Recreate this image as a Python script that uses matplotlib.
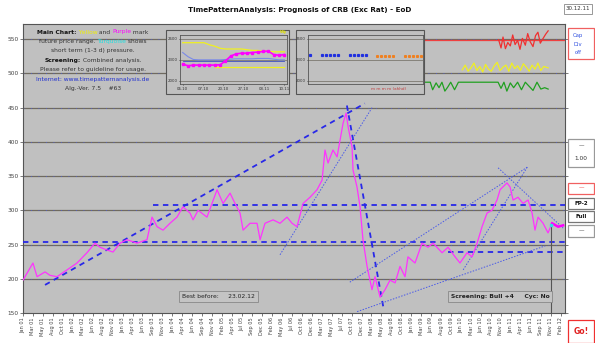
import matplotlib.pyplot as plt
import numpy as np
import pandas as pd
from matplotlib.patches import Rectangle

W, H = 595, 343

# CRB index: position in years after 01.01.2001 and index value
crb_years = [0.000, 0.206, 0.289, 0.454, 0.557, 0.701, 0.908, 1.114, 1.320, 1.485,
             1.588, 1.733, 1.856, 2.001, 2.145, 2.352, 2.558, 2.661, 2.764, 2.888,
             3.032, 3.177, 3.300, 3.445, 3.507, 3.610, 3.795, 4.002, 4.125, 4.270,
             4.373, 4.476, 4.538, 4.682, 4.827, 4.889, 4.992, 5.157, 5.301, 5.446,
             5.549, 5.652, 5.776, 5.920, 6.064, 6.168, 6.229, 6.291, 6.394, 6.477,
             6.539, 6.601, 6.663, 6.704, 6.786, 6.807, 6.889, 6.951, 7.013, 7.096,
             7.199, 7.261, 7.364, 7.467, 7.570, 7.673, 7.776, 7.880, 7.941, 8.086,
             8.230, 8.354, 8.457, 8.643, 8.767, 8.911, 9.014, 9.158, 9.262, 9.365,
             9.468, 9.571, 9.674, 9.777, 9.839, 9.983, 10.045, 10.107, 10.210, 10.314,
             10.417, 10.499, 10.561, 10.623, 10.726, 10.829, 10.912, 11.035, 11.139]
crb_values = [198, 223, 203, 210, 205, 203, 213, 223, 238, 252,
              246, 242, 239, 252, 257, 252, 257, 290, 276, 271,
              281, 290, 305, 296, 286, 300, 290, 330, 310, 325,
              310, 296, 271, 281, 281, 257, 281, 286, 281, 290,
              281, 276, 310, 319, 330, 344, 388, 369, 388, 378,
              402, 427, 442, 422, 392, 359, 334, 305, 257, 218,
              184, 203, 173, 184, 198, 194, 218, 203, 232, 223,
              252, 246, 252, 238, 246, 232, 223, 238, 232, 252,
              276, 296, 300, 315, 330, 340, 334, 315, 319, 310,
              315, 296, 271, 290, 281, 267, 281, 276, 278]

# horizontal support / resistance levels: value, start year
level_values = [254, 308, 239]
level_starts = [0.0, 2.68, 8.77]

# trend lines: start year, start value, end year, end value
dashed_trends = [(0.454, 191, 7.05, 456), (6.68, 453, 7.43, 159)]
dotted_trends = [(5.30, 235, 7.20, 450), (6.89, 152, 10.77, 248),
                 (6.74, 195, 10.40, 363), (9.08, 213, 10.40, 363),
                 (9.80, 362, 11.14, 274)]

# indicator rows in the upper right corner
red_years = [9.81, 9.86, 9.90, 9.95, 10.00, 10.05, 10.10, 10.15, 10.20, 10.25, 10.30,
             10.36, 10.41, 10.46, 10.52, 10.57, 10.62, 10.67, 10.72, 10.78, 10.83]
red_vals = [549, 537, 553, 536, 545, 540, 556, 542, 548, 535, 551,
            541, 558, 546, 539, 555, 560, 544, 550, 557, 562]
yellow_years = [9.06, 9.12, 9.18, 9.24, 9.30, 9.36, 9.42, 9.48, 9.54, 9.60, 9.66, 9.72,
                9.78, 9.84, 9.90, 9.96, 10.02, 10.08, 10.14, 10.20, 10.26, 10.32, 10.38,
                10.44, 10.50, 10.56, 10.62, 10.68, 10.74, 10.83]
yellow_vals = [505, 512, 503, 508, 515, 504, 510, 502, 513, 506, 503, 511,
               516, 504, 509, 512, 503, 515, 507, 511, 504, 514, 509,
               503, 512, 506, 515, 504, 510, 508]
green_years = [8.29, 8.40, 8.45, 8.52, 8.58, 8.64, 8.70, 8.76, 8.82, 8.90, 8.98, 9.05,
               9.20, 9.40, 9.60, 9.80, 9.86, 9.92, 9.98, 10.05, 10.12, 10.20, 10.28,
               10.36, 10.44, 10.52, 10.60, 10.68, 10.76, 10.83]
green_vals = [487, 487, 476, 486, 479, 487, 474, 480, 487, 476, 487, 487,
              487, 487, 487, 487, 478, 487, 474, 486, 479, 487, 476,
              487, 481, 475, 487, 477, 479, 477]

# small inset on the left
ins1_x = [0, 1, 2, 3, 4, 5, 6, 7, 8, 9, 10, 11, 12, 13, 14, 15, 16, 17, 18, 19]
ins1_pink = [2285, 2260, 2270, 2270, 2270, 2270, 2270, 2275, 2330, 2400, 2430, 2440,
             2440, 2450, 2455, 2465, 2470, 2420, 2410, 2420]
ins1_yellow_hi = [2590, 2590, 2590, 2590, 2590, 2560, 2540, 2510, 2500, 2500, 2500, 2500,
                  2490, 2480, 2480, 2470, 2470, 2460, 2460, 2460]
ins1_yellow_lo = [None, None, None, None, None, None, 2240, 2240, 2240, 2240, 2240, 2240,
                  2240, 2240, 2240, 2240, 2240, 2240, 2240, 2240]
ins1_blue = [2450, 2390, 2350, 2345, 2345, 2345, 2345, 2345, 2350, 2355, 2360, 2360,
             2360, 2360, 2365, 2365, 2365, 2355, 2345, 2345]
ins1_dates = ["06.10", "07.10", "20.10", "27.10", "03.11", "10.11"]

# small inset on the right
ins2_blue_x = [0, 3, 4, 5, 6, 7, 10, 11, 12, 13, 14]
ins2_orange_x = [17, 18, 19, 20, 21, 24, 25, 26, 27, 28]


def to_date(years):
    days = np.round(np.asarray(years, dtype=float) * 365.25).astype(int)
    return np.datetime64("2001-01-01") + days.astype("timedelta64[D]")


def fig_rect(x0, y0, x1, y1):
    return [x0 / W, 1 - y1 / H, (x1 - x0) / W, (y1 - y0) / H]


def frame(x0, y0, x1, y1, fc, ec, lw=0.8, z=1):
    fig.patches.append(Rectangle((x0 / W, 1 - y1 / H), (x1 - x0) / W, (y1 - y0) / H,
                                 transform=fig.transFigure, fc=fc, ec=ec, lw=lw, zorder=z))


fig = plt.figure(figsize=(W / 100, H / 100), dpi=100)
fig.patch.set_facecolor("white")

ax = fig.add_axes(fig_rect(23, 24, 565, 313))
ax.set_zorder(0)
ax.set_facecolor("#c0c0c0")
x_end = 11.18
ax.set_xlim(to_date(0), to_date(x_end))
ax.set_ylim(150, 572)

for v in range(200, 551, 50):
    ax.axhline(v, color="#6f6a60", lw=0.9, zorder=1)
    ax.axhline(v, color="#4a5ad8", lw=0.6, ls=(0, (1, 8)), zorder=1)

# price series
ax.plot(to_date(crb_years), crb_values, color="#ff33ff", lw=0.9, zorder=4)
ax.plot(to_date(crb_years[-3:]), crb_values[-3:], color="#ff00ff", lw=1.8, zorder=5)
ax.plot(to_date([10.89]), [278], marker="s", ms=2, color="#30e0e0", zorder=6)

# levels and trends
for v, s in zip(level_values, level_starts):
    ax.plot(to_date([s, x_end]), [v, v], color="#2828e8", lw=1.3,
            ls=(0, (3, 2.5)), zorder=3)
for x0, y0, x1, y1 in dashed_trends:
    ax.plot(to_date([x0, x1]), [y0, y1], color="#2828e8", lw=1.3,
            ls=(0, (3, 2.5)), zorder=3)
for x0, y0, x1, y1 in dotted_trends:
    ax.plot(to_date([x0, x1]), [y0, y1], color="#4a5ae8", lw=0.7,
            ls=(0, (1.5, 1.5)), zorder=3)
ax.plot(to_date([10.89, 10.89]), [150, 278], color="#555555", lw=0.8, zorder=3)

# indicator rows
ax.plot(to_date([8.29, x_end]), [549, 549], color="#f04040", lw=0.9, zorder=3)
ax.plot(to_date(red_years), red_vals, color="#f03030", lw=0.9, zorder=3)
ax.plot(to_date(yellow_years), yellow_vals, color="#f0f020", lw=0.9, zorder=3)
ax.plot(to_date(green_years), green_vals, color="#20a020", lw=0.9, zorder=3)

# axis styling
ticks = pd.date_range("2001-01-01", periods=55, freq="75D")
ax.set_xticks(ticks)
ax.set_xticklabels([t.strftime("%b %y") for t in ticks], rotation=90,
                   fontsize=3.6, color="#333333")
ax.set_yticks(range(150, 551, 50))
ax.set_yticklabels([str(v) for v in range(150, 551, 50)], fontsize=4.2, color="#444444")
ax.tick_params(length=2, width=0.5, pad=1, right=True, colors="#444444")
for s in ax.spines.values():
    s.set_color("#555555")
    s.set_linewidth(0.8)

# info boxes in the main chart
ax.text(0.36, 0.057, "Best before:     23.02.12", transform=ax.transAxes,
        fontsize=4.3, ha="center", va="center", color="#222222",
        bbox=dict(boxstyle="square,pad=0.5", fc="#c4c4c4", ec="#888888", lw=0.6))
ax.text(0.88, 0.057, "Screening: Bull +4     Cyc: No", transform=ax.transAxes,
        fontsize=4.3, ha="center", va="center", color="#222222", weight="bold",
        bbox=dict(boxstyle="square,pad=0.5", fc="#c4c4c4", ec="#888888", lw=0.6))

# description text, line by line with coloured parts
renderer = fig.canvas.get_renderer()
desc = [
    [("Main Chart:", "#111111", "bold"), (" Yellow", "#f0f000", "normal"),
     (" and ", "#333333", "normal"), ("Purple", "#ff00ff", "normal"),
     (" mark", "#333333", "normal")],
    [("future price range. ", "#333333", "normal"), ("Turquoise", "#20e0e0", "normal"),
     (" shows", "#333333", "normal")],
    [("short term (1-3 d) pressure.", "#333333", "normal")],
    [("Screening:", "#111111", "bold"), (" Combined analysis.", "#333333", "normal")],
    [("Please refer to guideline for usage.", "#333333", "normal")],
    [("Internet: www.timepatternanalysis.de", "#2030d0", "normal")],
    [("Alg.-Ver. 7.5    #63", "#333333", "normal")],
]
for i, parts in enumerate(desc):
    y = 1 - (32 + i * 9.4) / H
    pieces = []
    for txt, col, wt in parts:
        t = fig.text(0, y, txt, fontsize=4.3, color=col, weight=wt, va="center")
        pieces.append(t)
    widths = [p.get_window_extent(renderer).width for p in pieces]
    x = 93 - sum(widths) / 2
    for p, w in zip(pieces, widths):
        p.set_x(x / W)
        x += w

# inset 1
frame(166, 30, 289, 94, "#c0c0c0", "#555555")
a1 = fig.add_axes(fig_rect(180, 35, 287, 84))
a1.set_zorder(2)
a1.set_facecolor("#c0c0c0")
a1.plot(ins1_x, ins1_blue, color="#7a8ae8", lw=0.8)
a1.plot(ins1_x, [2330] * len(ins1_x), color="#4050c0", lw=0.6)
a1.plot(ins1_x, ins1_yellow_hi, color="#f0f020", lw=0.9)
a1.plot(ins1_x, [np.nan if v is None else v for v in ins1_yellow_lo], color="#f0f020", lw=0.9)
a1.plot(ins1_x, ins1_pink, color="#ff00ff", lw=1.2, marker="s", ms=1.6)
a1.set_xlim(-0.5, 19.5)
a1.set_ylim(2000, 2700)
a1.set_yticks([2050, 2350, 2650])
a1.set_yticklabels(["2000", "2300", "2600"], fontsize=2.8, color="#333333")
a1.set_xticks(np.linspace(0, 19, len(ins1_dates)))
a1.set_xticklabels(ins1_dates, fontsize=2.8, color="#333333")
a1.tick_params(length=1, width=0.4, pad=0.8)
for v in [2050, 2350, 2650]:
    a1.axhline(v, color="#6f6a60", lw=0.5, zorder=0)
for s in a1.spines.values():
    s.set_color("#555555")
    s.set_linewidth(0.6)
a1.text(0.97, 1.06, "Wy", transform=a1.transAxes, fontsize=3, color="#e0e000",
        weight="bold", ha="center", va="center")

# inset 2
frame(296, 30, 424, 94, "#c0c0c0", "#555555")
a2 = fig.add_axes(fig_rect(308, 35, 423, 84))
a2.set_zorder(2)
a2.set_facecolor("#c0c0c0")
a2.plot(ins2_blue_x, [2420] * len(ins2_blue_x), ls="none", marker="s", ms=1.3,
        color="#2030e0")
a2.plot(ins2_orange_x, [2405] * len(ins2_orange_x), ls="none", marker="s", ms=1.2,
        color="#f08020")
a2.set_xlim(-0.5, 28.5)
a2.set_ylim(2000, 2700)
a2.set_yticks([2050, 2350, 2650])
a2.set_yticklabels(["2000", "2300", "2600"], fontsize=2.8, color="#333333")
a2.set_xticks([])
a2.tick_params(length=1, width=0.4, pad=0.8)
for v in [2050, 2350, 2650]:
    a2.axhline(v, color="#6f6a60", lw=0.5, zorder=0)
for s in a2.spines.values():
    s.set_color("#555555")
    s.set_linewidth(0.6)
a2.text(0.7, -0.1, "m m m m (ahhd)", transform=a2.transAxes, fontsize=3,
        color="#c04040", ha="center", va="center")

# title and date
fig.text(300 / W, 1 - 10 / H, "TimePatternAnalysis: Prognosis of CRB (Exc Rat) - EoD",
         fontsize=5.2, weight="bold", ha="center", va="center", color="#111111")
fig.text(578 / W, 1 - 9 / H, "30.12.11", fontsize=4, ha="center", va="center",
         color="#333333",
         bbox=dict(boxstyle="square,pad=0.4", fc="white", ec="#888888", lw=0.6))

# side boxes on the right
side_boxes = [(28, 59, "#f06060"), (139, 167, "#999999"), (183, 194, "#f06060"),
              (198, 209, "#777777"), (211, 222, "#777777"), (225, 237, "#999999"),
              (320, 343, "#f03030")]
for y0, y1, ec in side_boxes:
    frame(568, y0, 594, y1, "white", ec, lw=0.9)
for y, txt in zip([35, 44, 53], ["Cap", "Div", "off"]):
    fig.text(578 / W, 1 - y / H, txt, fontsize=3.8, color="#3050e0", ha="center", va="center")
fig.text(581 / W, 1 - 146 / H, "—", fontsize=4, color="#333333", ha="center", va="center")
fig.text(581 / W, 1 - 158 / H, "1.00", fontsize=4.2, color="#333333", ha="center", va="center")
fig.text(581 / W, 1 - 188 / H, "—", fontsize=4, color="#f03030", ha="center", va="center")
fig.text(581 / W, 1 - 203.5 / H, "FP-2", fontsize=4, color="#111111", weight="bold",
         ha="center", va="center")
fig.text(581 / W, 1 - 216.5 / H, "Full", fontsize=4, color="#111111", weight="bold",
         ha="center", va="center")
fig.text(581 / W, 1 - 231 / H, "—", fontsize=4, color="#333333", ha="center", va="center")
fig.text(581 / W, 1 - 332 / H, "Go!", fontsize=5.5, color="#e02020", weight="bold",
         ha="center", va="center")

fig.savefig("out.png", dpi=100)
